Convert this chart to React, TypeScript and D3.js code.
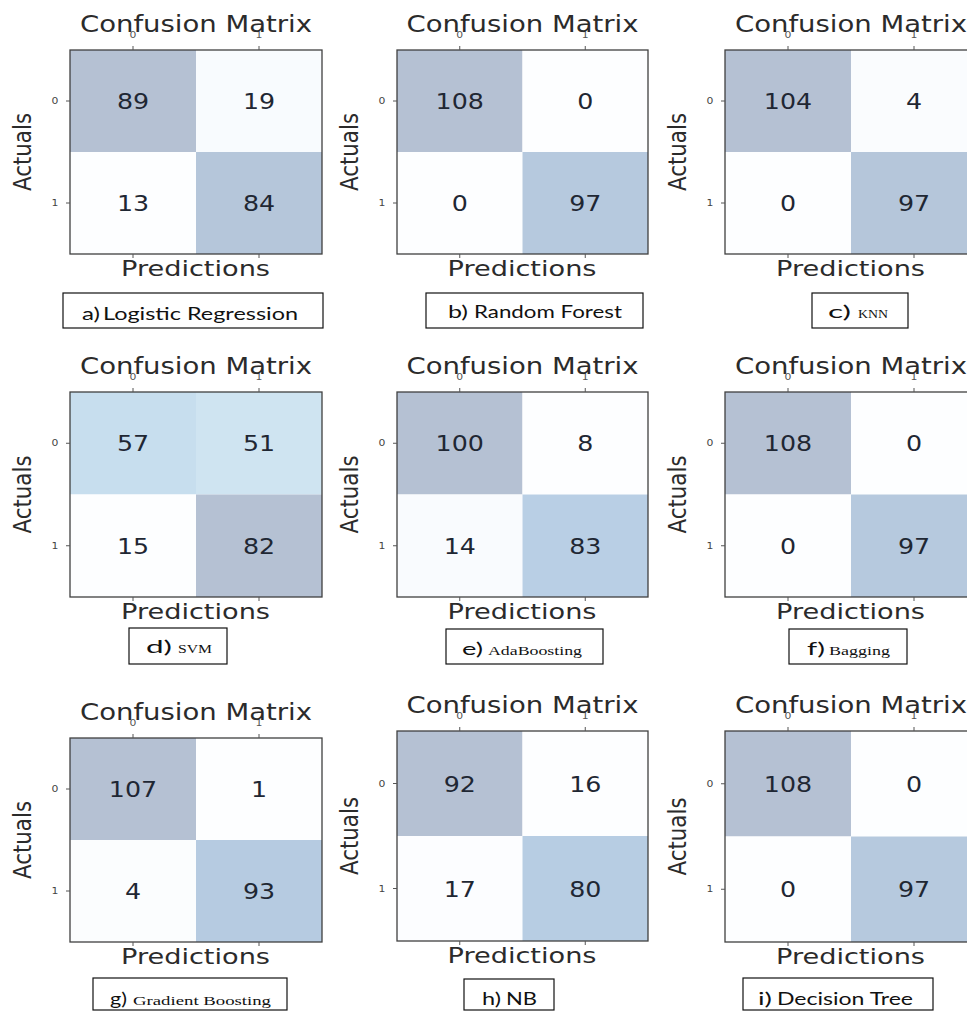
import React, { useMemo } from 'react';
import * as d3 from 'd3';

// ---------- DATA ----------
const captionLetters = ['a)', 'b)', 'c)', 'd)', 'e)', 'f)', 'g)', 'h)', 'i)'];
const modelNames = ['Logistic Regression', 'Random Forest', 'KNN', 'SVM', 'AdaBoosting', 'Bagging', 'Gradient Boosting', 'NB', 'Decision Tree'];
// confusion matrix cells: [actual 0 / pred 0, actual 0 / pred 1, actual 1 / pred 0, actual 1 / pred 1]
const trueNeg = [89, 108, 104, 57, 100, 108, 107, 92, 108];
const falsePos = [19, 0, 4, 51, 8, 0, 1, 16, 0];
const falseNeg = [13, 0, 0, 15, 14, 0, 4, 17, 0];
const truePos = [84, 97, 97, 82, 83, 97, 93, 80, 97];
const classLabels = ['0', '1'];
const titleText = 'Confusion Matrix';
const xAxisLabel = 'Predictions';
const yAxisLabel = 'Actuals';

// ---------- LAYOUT ----------
// matrix box: left, top, width, height
const boxes = [
  [70, 50, 252, 204], [397, 50, 251, 204], [725, 50, 252, 204],
  [70, 392, 252, 205], [397, 392, 251, 205], [725, 392, 252, 205],
  [70, 738, 252, 204], [397, 731, 251, 210], [725, 731, 252, 211],
];
// caption frame: x0, y0, x1, y1
const capFrames = [
  [63, 293, 323, 328], [426, 293, 643, 328], [812, 293, 908, 328],
  [129, 628, 227, 664], [446, 629, 603, 664], [789, 629, 907, 664],
  [93, 978, 287, 1010], [464, 979, 554, 1010], [743, 978, 933, 1010],
];
// caption text: prefix x0,x1 ; name x0,x1 ; baseline ; serif name?
const capText = [
  { px: [82, 100], nx: [103, 298], y: 320, serif: false },
  { px: [448, 468], nx: [474, 622], y: 318, serif: false },
  { px: [828, 851], nx: [858, 888], y: 318, serif: true },
  { px: [146, 172], nx: [178, 212], y: 653, serif: true },
  { px: [462, 483], nx: [488, 582], y: 655, serif: true },
  { px: [807, 825], nx: [829, 890], y: 655, serif: true },
  { px: [110, 127], nx: [133, 271], y: 1005, serif: true },
  { px: [482, 501], nx: [506, 537], y: 1005, serif: false },
  { px: [758, 772], nx: [777, 913], y: 1005, serif: false },
];

const SANS = 'DejaVu Sans';
const CAP_SANS = 'Lato';
const SERIF = 'Liberation Serif';

function blendBlue(t: number): string {
  const c = d3.rgb(d3.interpolateBlues(t));
  const a = 0.3;
  return d3.rgb(255 * (1 - a) + c.r * a, 255 * (1 - a) + c.g * a, 255 * (1 - a) + c.b * a).formatHex();
}

function Panel({ idx }: { idx: number }) {
  const [left, top, w, h] = boxes[idx];
  const values = [
    [trueNeg[idx], falsePos[idx]],
    [falseNeg[idx], truePos[idx]],
  ];
  const flat = values.flat();
  const norm = d3.scaleLinear().domain(d3.extent(flat) as [number, number]).range([0, 1]);
  const x = d3.scaleBand().domain(classLabels).range([left, left + w]);
  const y = d3.scaleBand().domain(classLabels).range([top, top + h]);
  const bw = x.bandwidth();
  const bh = y.bandwidth();
  const cx = left + w / 2;
  const cy = top + h / 2;
  const ct = capText[idx];
  const cf = capFrames[idx];
  return (
    <g>
      {classLabels.map((r, ri) =>
        classLabels.map((c, ci) => (
          <rect key={`c${ri}${ci}`} x={x(c)!} y={y(r)!} width={bw} height={bh}
            fill={blendBlue(norm(values[ri][ci]))} />
        ))
      )}
      {classLabels.map((r, ri) =>
        classLabels.map((c, ci) => (
          <text key={`t${ri}${ci}`} transform={`translate(${x(c)! + bw / 2},${y(r)! + bh / 2 + 8}) scale(1.15,1)`}
            textAnchor="middle" fontFamily={SANS} fontSize={22} fill="#1f2733">
            {values[ri][ci]}
          </text>
        ))
      )}
      <rect x={left} y={top} width={w} height={h} fill="none" stroke="#404040" strokeWidth={1.3} />
      {/* ticks */}
      {classLabels.map((c) => (
        <g key={`xt${c}`}>
          <line x1={x(c)! + bw / 2} x2={x(c)! + bw / 2} y1={top} y2={top - 4} stroke="#555" strokeWidth={1} />
          <line x1={x(c)! + bw / 2} x2={x(c)! + bw / 2} y1={top + h} y2={top + h + 4} stroke="#555" strokeWidth={1} />
          <text transform={`translate(${x(c)! + bw / 2},${top - 12}) scale(1.2,1)`} textAnchor="middle"
            fontFamily={SANS} fontSize={9} fill="#555">{c}</text>
        </g>
      ))}
      {classLabels.map((r) => (
        <g key={`yt${r}`}>
          <line x1={left} x2={left - 4} y1={y(r)! + bh / 2} y2={y(r)! + bh / 2} stroke="#555" strokeWidth={1} />
          <text transform={`translate(${left - 15},${y(r)! + bh / 2 + 3}) scale(1.2,1)`} textAnchor="middle"
            fontFamily={SANS} fontSize={9} fill="#444">{r}</text>
        </g>
      ))}
      {/* title */}
      <text x={cx - 116} y={top - 18} textLength={232} lengthAdjust="spacingAndGlyphs"
        fontFamily={SANS} fontSize={23} fill="#2b2b2b">{titleText}</text>
      {/* x label */}
      <text x={cx - 75} y={top + h + 22} textLength={149} lengthAdjust="spacingAndGlyphs"
        fontFamily={SANS} fontSize={21} fill="#2b2b2b">{xAxisLabel}</text>
      {/* y label */}
      <text transform={`translate(${left - 46 + 7},${cy}) scale(1.2,1) rotate(-90)`} textAnchor="middle"
        textLength={78} lengthAdjust="spacingAndGlyphs"
        fontFamily={SANS} fontSize={21} fill="#2b2b2b">{yAxisLabel}</text>
      {/* caption */}
      <rect x={cf[0]} y={cf[1]} width={cf[2] - cf[0]} height={cf[3] - cf[1]} fill="#fff" stroke="#111" strokeWidth={1.2} />
      <text x={ct.px[0]} y={ct.y} textLength={ct.px[1] - ct.px[0]} lengthAdjust="spacingAndGlyphs"
        fontFamily={CAP_SANS} fontSize={17} fill="#111">{captionLetters[idx]}</text>
      <text x={ct.nx[0]} y={ct.y} textLength={ct.nx[1] - ct.nx[0]} lengthAdjust="spacingAndGlyphs"
        fontFamily={ct.serif ? SERIF : CAP_SANS} fontSize={ct.serif ? 12 : 17} fill="#111">{modelNames[idx]}</text>
    </g>
  );
}

export default function App() {
  const ids = useMemo(() => d3.range(modelNames.length), []);
  return (
    <svg width={967} height={1012} style={{ position: 'absolute', left: 0, top: 0, background: '#fff' }}>
      <rect x={0} y={0} width={967} height={1012} fill="#fff" />
      {ids.map((i) => <Panel key={i} idx={i} />)}
    </svg>
  );
}
